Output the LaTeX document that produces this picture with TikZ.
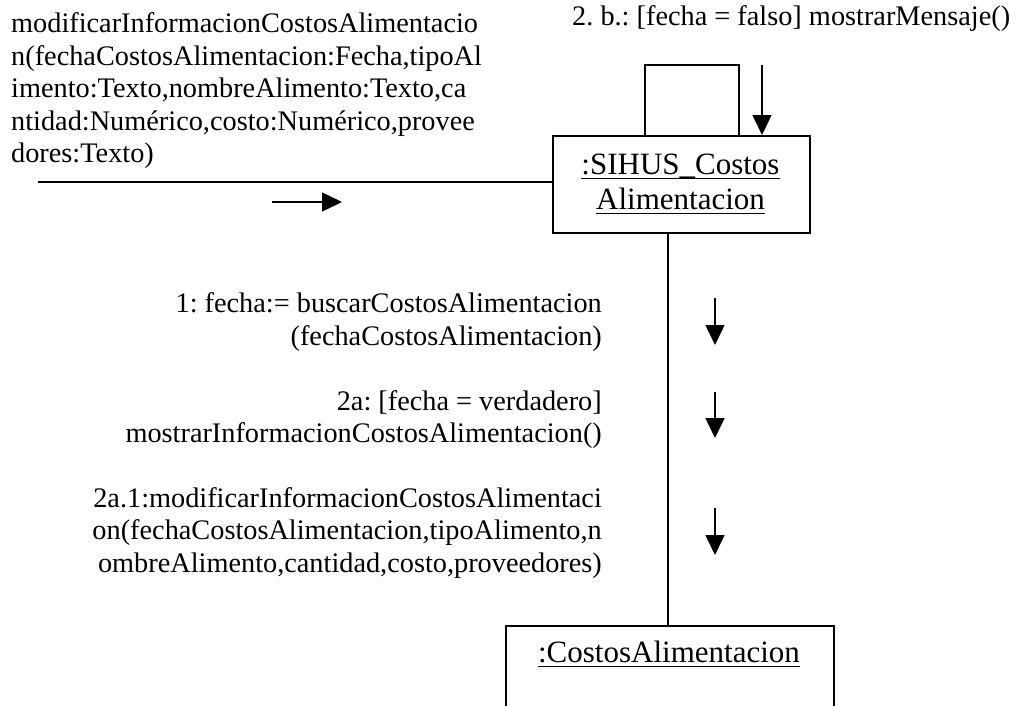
\documentclass[tikz,border=0pt]{standalone}
\usepackage{fontspec}
\setmainfont{Liberation Serif}
\usetikzlibrary{arrows.meta}
\newcommand\myul[1]{\leavevmode\setbox0\hbox{#1}\rlap{\rule[-5pt]{\wd0}{1.5pt}}\box0}
\begin{document}
\frenchspacing
\begin{tikzpicture}[x=1pt,y=-1pt,
  lbl/.style={inner sep=0pt, font=\fontsize{28.3}{32.5}\selectfont},
  objlbl/.style={inner sep=0pt, font=\fontsize{31}{35}\selectfont},
  objbox/.style={draw, line width=1.5pt, inner sep=0pt},
  conn/.style={line width=1.5pt},
  msg/.style={line width=1.5pt, -{Triangle[length=20pt,width=19pt]}}
]
\useasboundingbox (0,0) rectangle (1018,705);
\clip (0,0) rectangle (1018,705);

% objects
\node[objbox, anchor=north west, minimum width=257pt, minimum height=97pt] (sihus) at (552,135) {};
\node[objlbl, anchor=base] (sihus1) at (680.5,174) {\myul{:SIHUS\_Costos}};
\node[objlbl, anchor=base] (sihus2) at (680.5,209) {\myul{Alimentacion}};

\node[objbox, anchor=north west, minimum width=328pt, minimum height=150pt] (costos) at (505,625) {};
\node[objlbl, anchor=base] (costosname) at (669,662) {\myul{:CostosAlimentacion}};

% labels
\node[lbl, anchor=north west, align=left] (inmsg) at (11,12.5) {modificarInformacionCostosAlimentacio\\n(fechaCostosAlimentacion:Fecha,tipoAl\\imento:Texto,nombreAlimento:Texto,ca\\ntidad:Numérico,costo:Numérico,provee\\dores:Texto)};
\node[lbl, anchor=base west] (selfmsg) at (572,25) {2. b.: [fecha = falso] mostrarMensaje()};
\node[lbl, anchor=north east, align=right] (m1) at (602,292.5) {1: fecha:= buscarCostosAlimentacion\\(fechaCostosAlimentacion)};
\node[lbl, anchor=north east, align=right] (m2) at (602,390) {2a: [fecha = verdadero]\\mostrarInformacionCostosAlimentacion()};
\node[lbl, anchor=north east, align=right] (m3) at (602,487) {2a.1:modificarInformacionCostosAlimentaci\\on(fechaCostosAlimentacion,tipoAlimento,n\\ombreAlimento,cantidad,costo,proveedores)};

% links
\coordinate (actor) at (38,182);
\draw[conn] (actor) -- (actor -| sihus.west);
\draw[conn] (sihus.north west) ++(93,0) -- ++(0,-70) -- ++(94,0) -- ++(0,70);
\coordinate (linkx) at (668,0);
\draw[conn] (sihus.south -| linkx) -- (costos.north -| linkx);

% message arrows
\coordinate (a0) at (272,202);
\draw[msg] (a0) -- ++(70,0);
\coordinate (a4) at (762,65);
\draw[msg] (a4) -- (a4 |- sihus.north);
\coordinate (a1) at (715,298);
\draw[msg] (a1) -- ++(0,47);
\coordinate (a2) at (715,392);
\draw[msg] (a2) -- ++(0,46);
\coordinate (a3) at (715,508);
\draw[msg] (a3) -- ++(0,47);
\end{tikzpicture}
\end{document}
